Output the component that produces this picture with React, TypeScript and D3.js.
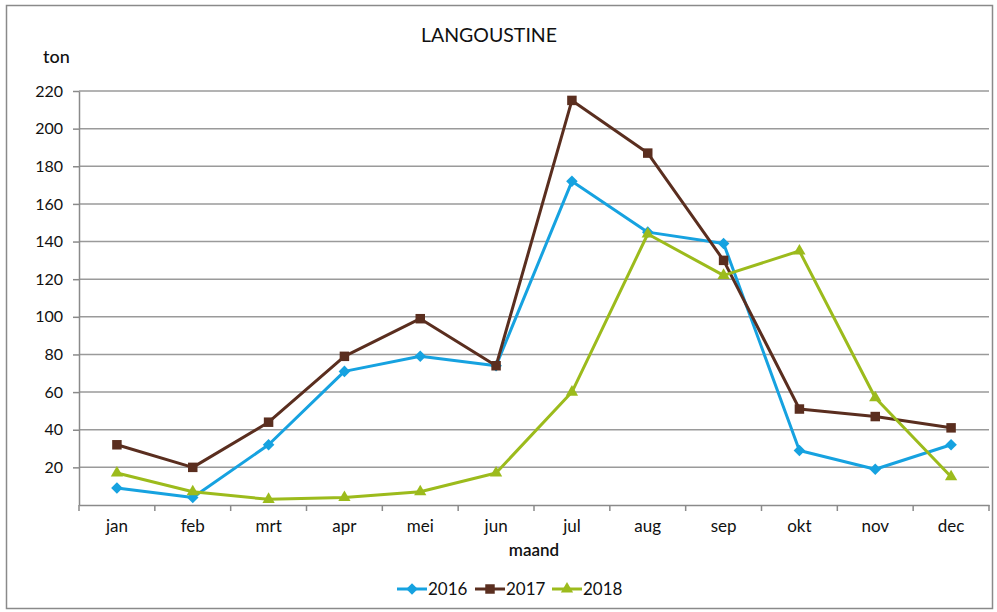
import React, { useRef, useEffect } from 'react';
import * as d3 from 'd3';

const months = ['jan', 'feb', 'mrt', 'apr', 'mei', 'jun', 'jul', 'aug', 'sep', 'okt', 'nov', 'dec'];
const values2016 = [9, 4, 32, 71, 79, 74, 172, 145, 139, 29, 19, 32];
const values2017 = [32, 20, 44, 79, 99, 74, 215, 187, 130, 51, 47, 41];
const values2018 = [17, 7, 3, 4, 7, 17, 60, 144, 122, 135, 57, 15];
const yTicks = [20, 40, 60, 80, 100, 120, 140, 160, 180, 200, 220];

const diamond = (d3 as any).symbolDiamond2 || d3.symbolDiamond;

const seriesList = [
  { name: '2016', values: values2016, color: '#16a2e0', symbol: diamond, size: 85 },
  { name: '2017', values: values2017, color: '#5a2e1f', symbol: d3.symbolSquare, size: 90 },
  { name: '2018', values: values2018, color: '#9cbb1c', symbol: d3.symbolTriangle, size: 65 },
];

const W = 997;
const H = 612;
const FONT = 'Lato, "Open Sans", sans-serif';

const App: React.FC = () => {
  const svgRef = useRef<SVGSVGElement>(null);

  useEffect(() => {
    if (!svgRef.current) return;
    const svg = d3.select(svgRef.current);
    svg.selectAll('*').remove();

    const margin = { top: 91, right: 8, bottom: 107, left: 79 };
    const width = W - margin.left - margin.right;
    const height = H - margin.top - margin.bottom;

    // outer frame
    svg.append('rect')
      .attr('x', 6.5).attr('y', 5.5)
      .attr('width', 986).attr('height', 603)
      .attr('fill', '#fff').attr('stroke', '#8a8a8a').attr('stroke-width', 1.5);

    svg.append('text')
      .attr('x', 489).attr('y', 42)
      .attr('text-anchor', 'middle')
      .attr('font-family', FONT).attr('font-size', 19.5).attr('fill', '#111')
      .text('LANGOUSTINE');

    const g = svg.append('g').attr('transform', `translate(${margin.left},${margin.top})`);

    const x = d3.scaleBand().domain(months).range([0, width]);
    const y = d3.scaleLinear().domain([0, 220]).range([height, 0]);

    // gridlines
    g.selectAll('.grid')
      .data(yTicks)
      .enter()
      .append('line')
      .attr('x1', 0).attr('x2', width)
      .attr('y1', d => y(d)).attr('y2', d => y(d))
      .attr('stroke', '#9a9a9a').attr('stroke-width', 1.5);

    // y axis
    const yAxis = g.append('g')
      .call(d3.axisLeft(y).tickValues(yTicks).tickSize(6).tickPadding(10).tickSizeOuter(0));
    yAxis.select('.domain').attr('stroke', '#8a8a8a').attr('stroke-width', 1.5);
    yAxis.selectAll('.tick line').attr('stroke', '#8a8a8a').attr('stroke-width', 1.5);
    yAxis.selectAll('.tick text')
      .attr('font-family', FONT).attr('font-size', 16).attr('fill', '#111');

    // x axis
    const xAxis = g.append('g')
      .attr('transform', `translate(0,${height})`)
      .call(d3.axisBottom(x).tickSize(0).tickPadding(15).tickSizeOuter(0));
    xAxis.select('.domain').attr('stroke', '#8a8a8a').attr('stroke-width', 1.5);
    xAxis.selectAll('.tick text')
      .attr('font-family', FONT).attr('font-size', 17).attr('fill', '#111');
    xAxis.selectAll('.bandtick')
      .data(d3.range(months.length + 1))
      .enter()
      .append('line')
      .attr('x1', i => i * x.step()).attr('x2', i => i * x.step())
      .attr('y1', 0).attr('y2', 6)
      .attr('stroke', '#8a8a8a').attr('stroke-width', 1.5);

    svg.append('text')
      .attr('x', 43).attr('y', 63)
      .attr('font-family', FONT).attr('font-size', 18).attr('fill', '#111')
      .attr('font-weight', 500)
      .text('ton');

    svg.append('text')
      .attr('x', margin.left + width / 2).attr('y', 556)
      .attr('text-anchor', 'middle')
      .attr('font-family', FONT).attr('font-size', 17).attr('fill', '#111')
      .attr('font-weight', 600)
      .text('maand');

    const cx = (m: string) => (x(m) || 0) + x.bandwidth() / 2;
    const line = d3.line<number>()
      .x((_, i) => cx(months[i]))
      .y(d => y(d));

    seriesList.forEach(s => {
      g.append('path')
        .datum(s.values)
        .attr('d', line)
        .attr('fill', 'none')
        .attr('stroke', s.color)
        .attr('stroke-width', 3)
        .attr('stroke-linejoin', 'round');

      g.selectAll(`.pt-${s.name}`)
        .data(s.values)
        .enter()
        .append('path')
        .attr('d', d3.symbol().type(s.symbol).size(s.size)())
        .attr('transform', (d, i) => `translate(${cx(months[i])},${y(d)})`)
        .attr('fill', s.color);
    });

    // legend
    const legendX = [397, 475, 552];
    seriesList.forEach((s, i) => {
      const lg = svg.append('g').attr('transform', `translate(${legendX[i]},589)`);
      lg.append('line')
        .attr('x1', 0).attr('x2', 30).attr('y1', 0).attr('y2', 0)
        .attr('stroke', s.color).attr('stroke-width', 3);
      lg.append('path')
        .attr('d', d3.symbol().type(s.symbol).size(s.size)())
        .attr('transform', 'translate(15,0)')
        .attr('fill', s.color);
      lg.append('text')
        .attr('x', 31).attr('y', 6)
        .attr('font-family', FONT).attr('font-size', 17).attr('fill', '#111')
        .text(s.name);
    });
  }, []);

  return (
    <svg ref={svgRef} width={W} height={H} style={{ position: 'absolute', left: 0, top: 0 }} />
  );
};

export default App;
